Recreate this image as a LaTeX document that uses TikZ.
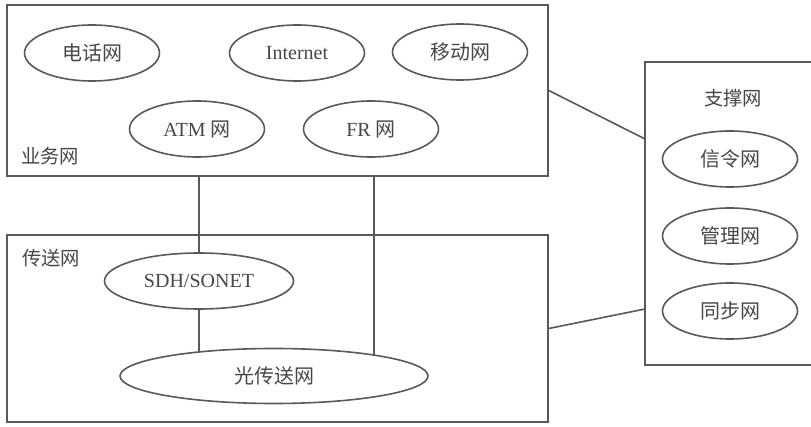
\documentclass[tikz,border=0pt]{standalone}
\usepackage{fontspec}
\setmainfont{Liberation Serif}
\newfontfamily\cjk{Noto Sans CJK SC}
\usetikzlibrary{shapes.geometric,fit,backgrounds}
\begin{document}
\begin{tikzpicture}[x=0.75pt,y=-0.75pt,
  conn/.style={draw=black!65,line width=1.2pt},
  net/.style={ellipse,conn,fill=white,inner sep=0pt,minimum width=101.25pt,minimum height=42pt,text=black!72,font=\fontsize{15}{17}\selectfont},
  box/.style={rectangle,conn,inner sep=0pt},
  lbl/.style={text=black!72,font=\fontsize{14.5}{16}\selectfont\cjk,inner sep=0pt}]
\useasboundingbox (0,0) rectangle (811,427);
% boxes
\node[box,fit={(7,5) (548,176)}] (biz) {};
\node[box,fit={(7,235) (548,422)}] (trans) {};
\begin{scope}
\clip (0,0) rectangle (811,427);
\node[box,fit={(645,62) (840,365)}] (sup) {};
\end{scope}
% service networks
\node[net] (tel) at (92,53) {\cjk 电话网};
\node[net] (inet) at (297,53) {Internet};
\node[net] (mob) at (460,52) {\cjk 移动网};
\node[net] (atm) at (197,129) {ATM {\cjk 网}};
\node[net] (fr) at (371,129) {FR {\cjk 网}};
% transport networks
\node[net,minimum width=141.75pt] (sdh) at (199,281) {SDH/SONET};
\node[net,minimum width=231pt,minimum height=41.25pt] (otn) at (274,376) {\cjk 光传送网};
% support networks
\node[net] (sig) at (730,159) {\cjk 信令网};
\node[net] (mgmt) at (730,236) {\cjk 管理网};
\node[net] (sync) at (730,311) {\cjk 同步网};
% labels
\node[lbl,anchor=west] (bizl) at (21,156) {业务网};
\node[lbl,anchor=west] (transl) at (22,258) {传送网};
\node[lbl] (supl) at (733,98) {支撑网};
% connectors
\coordinate (s1) at (645,139);
\coordinate (s2) at (645,309);
\coordinate (b1) at (374,176);
\begin{scope}[on background layer]
\draw[conn] (sdh.north |- biz.south) -- (sdh.north);
\draw[conn] (sdh.south) -- (sdh.south |- otn.center);
\draw[conn] (b1) -- (b1 |- otn.center);
\end{scope}
\draw[conn] (biz.east) -- (s1);
\draw[conn] (trans.east) -- (s2);
\end{tikzpicture}
\end{document}
